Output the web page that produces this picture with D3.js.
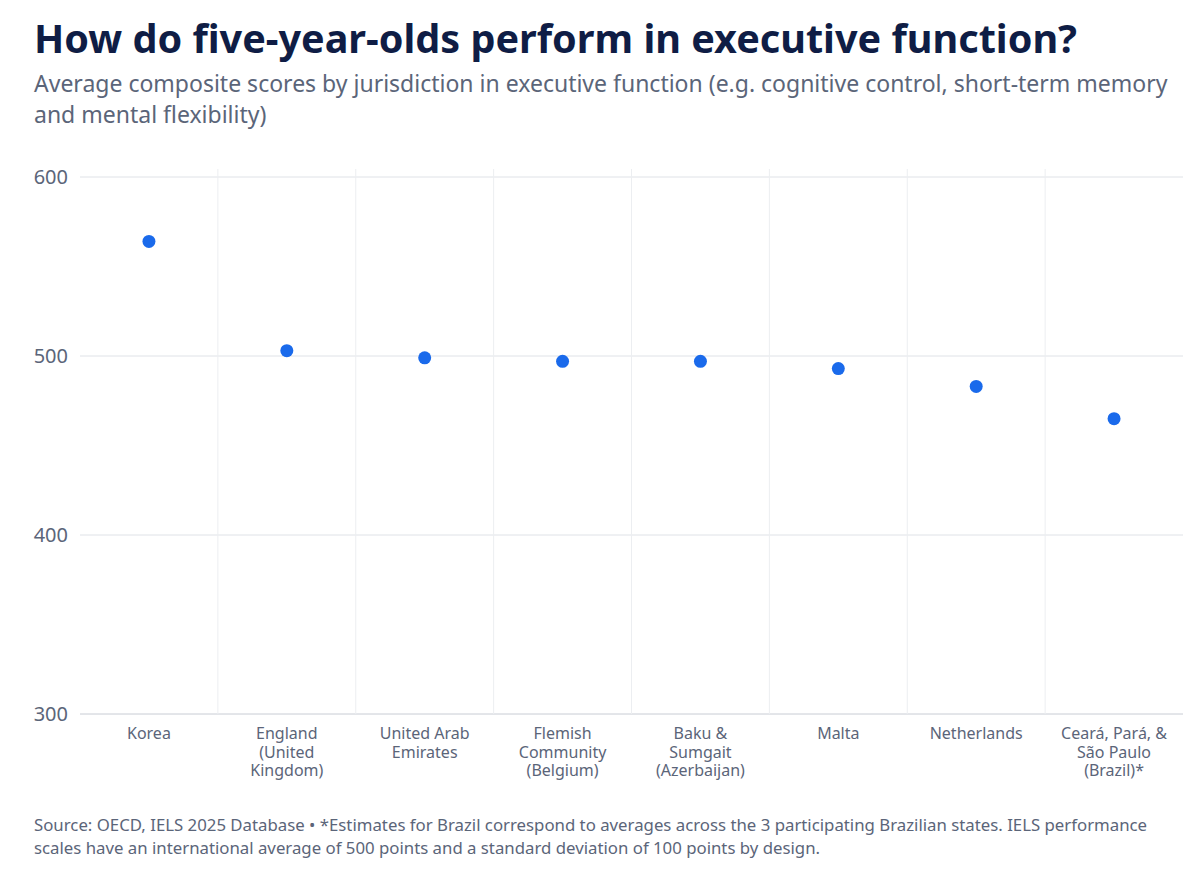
<!DOCTYPE html>
<html><head><meta charset="utf-8">
<script src="https://cdn.jsdelivr.net/npm/d3@7"></script>
<style>body{margin:0;background:#fff;font-family:"Noto Sans",sans-serif;}</style>
</head><body><svg id="c" width="1200" height="870"></svg>
<script>
const categories = [["Korea"],["England","(United","Kingdom)"],["United Arab","Emirates"],["Flemish","Community","(Belgium)"],["Baku &","Sumgait","(Azerbaijan)"],["Malta"],["Netherlands"],["Ceará, Pará, &","São Paulo","(Brazil)*"]];
const values = [564, 503, 499, 497, 497, 493, 483, 465];
const yTicks = [300, 400, 500, 600];

const svg = d3.select("#c");
const L = 80, R = 1183, T = 177, B = 714;
const x = d3.scaleBand().domain(d3.range(categories.length)).range([L, R]);
const y = d3.scaleLinear().domain([300, 600]).range([B, T]);

svg.append("text").attr("x",34).attr("y",53).attr("font-size",39.6).attr("font-weight",700).attr("fill","#0f1d45")
  .text("How do five-year-olds perform in executive function?");
svg.append("text").attr("x",34).attr("y",92).attr("font-size",23).attr("fill","#5b6579")
  .text("Average composite scores by jurisdiction in executive function (e.g. cognitive control, short-term memory");
svg.append("text").attr("x",34).attr("y",123).attr("font-size",23).attr("fill","#5b6579")
  .text("and mental flexibility)");

svg.selectAll(".hg").data(yTicks).enter().append("line")
  .attr("x1",L).attr("x2",R).attr("y1",d=>y(d)).attr("y2",d=>y(d))
  .attr("stroke",d=>d===300?"#c8ccd4":"#dfe2e7").attr("stroke-width",1);
svg.selectAll(".vg").data(d3.range(1,categories.length)).enter().append("line")
  .attr("x1",d=>x(d)).attr("x2",d=>x(d)).attr("y1",T-8).attr("y2",B)
  .attr("stroke","#eceef1");
svg.selectAll(".yl").data(yTicks).enter().append("text")
  .attr("x",68).attr("y",d=>y(d)+7).attr("text-anchor","end").attr("font-size",20).attr("fill","#5b6579")
  .text(d=>d);
const xl = svg.selectAll(".xl").data(categories).enter().append("text")
  .attr("text-anchor","middle").attr("font-size",16).attr("fill","#5b6579");
xl.each(function(lines,i){
  d3.select(this).selectAll("tspan").data(lines).enter().append("tspan")
    .attr("x",x(i)+x.bandwidth()/2).attr("y",(d,j)=>739+j*18.5).text(d=>d);
});
svg.selectAll(".dot").data(values).enter().append("circle")
  .attr("cx",(d,i)=>x(i)+x.bandwidth()/2).attr("cy",d=>y(d)).attr("r",6.5).attr("fill","#1a6aeb");

svg.append("text").attr("x",34).attr("y",831).attr("font-size",16.8).attr("fill","#5b6579")
  .text("Source: OECD, IELS 2025 Database • *Estimates for Brazil correspond to averages across the 3 participating Brazilian states. IELS performance");
svg.append("text").attr("x",34).attr("y",854).attr("font-size",16.8).attr("fill","#5b6579")
  .text("scales have an international average of 500 points and a standard deviation of 100 points by design.");
</script></body></html>
